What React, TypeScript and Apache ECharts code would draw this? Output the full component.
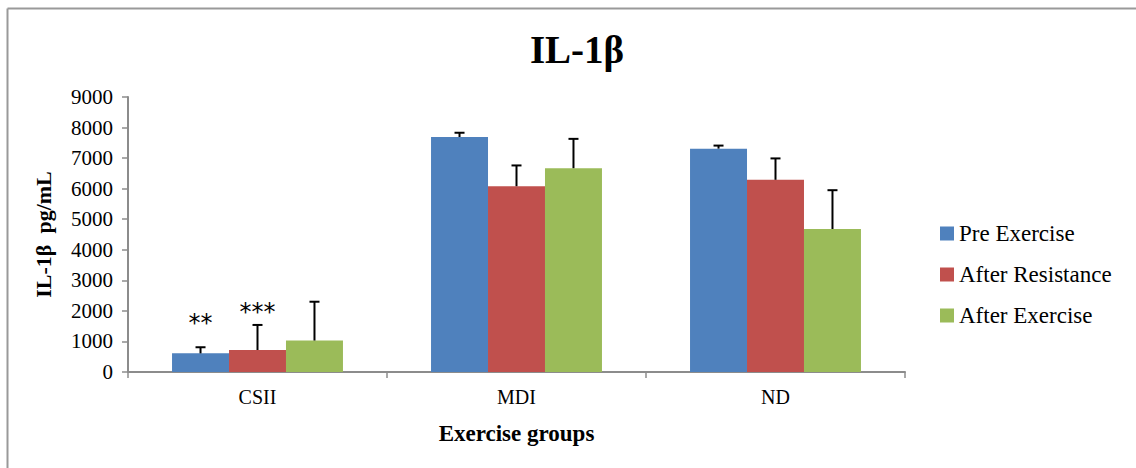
import React, { useEffect, useRef } from "react";
import * as echarts from "echarts";

const categories = ["CSII", "MDI", "ND"];
const seriesNames = ["Pre Exercise", "After Resistance", "After Exercise"];
const preExercise = [610, 7690, 7310];
const afterResistance = [720, 6080, 6290];
const afterExercise = [1030, 6670, 4680];
const preExerciseErrTop = [810, 7830, 7410];
const afterResistanceErrTop = [1540, 6760, 6990];
const afterExerciseErrTop = [2300, 7630, 5950];
// significance marks: [categoryIndex, seriesIndex, text, value position]
const sigMarks: [number, number, string, number][] = [
  [0, 0, "**", 1720],
  [0, 1, "***", 2080],
];
const yTicks = { min: 0, max: 9000, interval: 1000 };

const colors = ["#4F81BD", "#C0504D", "#9BBB59"];
const FONT = "Liberation Serif";
const GAP = 0.34;

export default function App() {
  const ref = useRef<HTMLDivElement>(null);
  useEffect(() => {
    document.body.style.margin = "0";
    const chart = echarts.init(ref.current!, null, { renderer: "svg" });
    const values = [preExercise, afterResistance, afterExercise];
    const errs = [preExerciseErrTop, afterResistanceErrTop, afterExerciseErrTop];
    const errData: any[] = [];
    values.forEach((arr, s) =>
      arr.forEach((v, c) => errData.push([c, s, v, errs[s][c]]))
    );
    const markData = sigMarks.map((m) => [m[0], m[1], m[3]]);
    chart.setOption({
      animation: false,
      color: colors,
      title: {
        text: "IL-1β",
        left: 572,
        textAlign: "center",
        top: 25,
        textStyle: { fontFamily: FONT, fontSize: 39, fontWeight: "bold", color: "#000" },
      },
      legend: {
        orient: "vertical",
        left: 935,
        top: 217,
        itemWidth: 14,
        itemHeight: 14,
        itemGap: 18,
        icon: "rect",
        data: seriesNames,
        textStyle: { fontFamily: FONT, fontSize: 23, color: "#000" },
      },
      grid: { left: 128, right: 231, top: 97, bottom: 96 },
      xAxis: {
        type: "category",
        data: categories,
        name: "Exercise groups",
        nameLocation: "middle",
        nameGap: 50,
        nameTextStyle: { fontFamily: FONT, fontSize: 23, fontWeight: "bold", color: "#000" },
        axisLine: { lineStyle: { color: "#8c8c8c", width: 2 } },
        axisTick: { show: true, length: 6, lineStyle: { color: "#8c8c8c", width: 1.5 } },
        axisLabel: { fontFamily: FONT, fontSize: 20, color: "#000", margin: 15 },
      },
      yAxis: {
        type: "value",
        min: yTicks.min,
        max: yTicks.max,
        interval: yTicks.interval,
        name: "IL-1β  pg/mL",
        nameLocation: "middle",
        nameGap: 74,
        nameTextStyle: { fontFamily: FONT, fontSize: 22, fontWeight: "bold", color: "#000" },
        axisLine: { show: true, lineStyle: { color: "#8c8c8c", width: 2 } },
        axisTick: { show: true, length: 6, lineStyle: { color: "#8c8c8c", width: 1.5 } },
        splitLine: { show: false },
        axisLabel: {
          fontFamily: FONT,
          fontSize: 21,
          color: "#000",
          margin: 15,
          formatter: (v: number) => String(v),
        },
      },
      series: [
        ...seriesNames.map((name, s) => ({
          name,
          type: "bar",
          data: values[s],
          barGap: "0%",
          barCategoryGap: GAP * 100 + "%",
          itemStyle: { color: colors[s] },
        })),
        {
          type: "custom",
          data: errData,
          z: 5,
          renderItem: (params: any, api: any) => {
            const c = api.value(0);
            const s = api.value(1);
            const v = api.value(2);
            const e = api.value(3);
            const band = api.size([1, 0])[0];
            const bw = (band * (1 - GAP)) / 3;
            const x = api.coord([c, 0])[0] + (s - 1) * bw;
            const yb = api.coord([c, v])[1];
            const yt = api.coord([c, e])[1];
            const st = { stroke: "#000", lineWidth: 2 };
            return {
              type: "group",
              children: [
                { type: "line", shape: { x1: x, y1: yb, x2: x, y2: yt }, style: st },
                { type: "line", shape: { x1: x - 5, y1: yt, x2: x + 5, y2: yt }, style: st },
              ],
            };
          },
        },
        {
          type: "custom",
          data: markData,
          z: 6,
          renderItem: (params: any, api: any) => {
            const c = api.value(0);
            const s = api.value(1);
            const p = api.value(2);
            const txt = sigMarks[params.dataIndex][2];
            const band = api.size([1, 0])[0];
            const bw = (band * (1 - GAP)) / 3;
            const x = api.coord([c, 0])[0] + (s - 1) * bw;
            const y = api.coord([c, p])[1];
            return {
              type: "text",
              style: {
                text: txt,
                x,
                y: y + 4,
                align: "center",
                verticalAlign: "middle",
                fontFamily: "DejaVu Sans",
                fontSize: 24,
                fill: "#000",
              },
            };
          },
        },
      ],
      graphic: [
        { type: "line", shape: { x1: 7.5, y1: 8.5, x2: 1136, y2: 8.5 }, style: { stroke: "#999", lineWidth: 2 } },
        { type: "line", shape: { x1: 7.5, y1: 8.5, x2: 7.5, y2: 468 }, style: { stroke: "#999", lineWidth: 2 } },
      ],
    });
    return () => chart.dispose();
  }, []);
  return <div ref={ref} style={{ width: 1136, height: 468 }} />;
}
